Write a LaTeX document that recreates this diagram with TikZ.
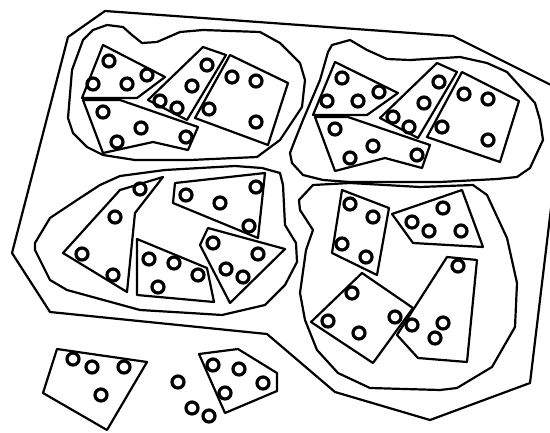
\documentclass[tikz,border=0pt]{standalone}
\usepackage{tikz}

\begin{document}
\begin{tikzpicture}[x=1pt,y=-1pt,line join=round,
    card/.style={draw,line width=2.2pt},
    blob/.style={draw,line width=2.2pt},
    hole/.style={draw,line width=3.2pt}]
  \useasboundingbox (0,0) rectangle (550,432);
  \clip (0,0) rectangle (550,432);
  % outer boundary
  \draw[blob] (105,11) -- (453,36) -- (565,92) -- (530,383) -- (430,420)
    -- (335,392) -- (267,334) -- (50,312) -- (12,253) -- (68,37) -- cycle;
  % groups
  \draw[blob] (83,40) -- (93,30) -- (107,25) -- (123,27) -- (132,35) -- (142,43)
    -- (157,42) -- (180,32) -- (203,30) -- (260,32) -- (280,43) -- (300,63)
    -- (305,80) -- (302,107) -- (280,140) -- (257,157) -- (190,160) -- (135,160)
    -- (103,155) -- (87,147) -- (73,133) -- (68,118) -- (72,70) -- cycle;
  \draw[blob] (332,45) -- (350,40) -- (367,50) -- (387,59) -- (410,60) -- (460,57)
    -- (487,63) -- (507,72) -- (535,103) -- (540,120) -- (543,140) -- (530,168)
    -- (517,177) -- (497,179) -- (440,182) -- (350,182) -- (323,180) -- (303,175)
    -- (292,163) -- (290,153) -- (295,140) -- (303,120) -- (320,80) -- (328,52) -- cycle;
  \draw[blob] (77,200) -- (100,185) -- (120,176) -- (165,170) -- (235,166)
    -- (262,168) -- (280,173) -- (283,185) -- (285,225) -- (296,243) -- (297,262)
    -- (285,285) -- (265,305) -- (222,315) -- (190,313) -- (140,310) -- (67,290)
    -- (50,280) -- (35,250) -- (35,243) -- (50,218) -- cycle;
  \draw[blob] (313,185) -- (350,183) -- (420,187) -- (473,185) -- (487,195)
    -- (507,238) -- (517,283) -- (515,327) -- (492,367) -- (457,388) -- (440,390)
    -- (370,388) -- (338,373) -- (317,350) -- (305,320) -- (300,293) -- (306,250)
    -- (313,230) -- (300,210) -- (299,200) -- cycle;
  % cards, top left group
  \draw[card] (103,45) -- (165,77) -- (137,98) -- (82,98) -- cycle;
  \draw[card] (83,100) -- (120,100) -- (198,127) -- (188,150) -- (153,142) -- (103,153) -- cycle;
  \draw[card] (203,47) -- (226,55) -- (187,120) -- (148,100) -- cycle;
  \draw[card] (230,55) -- (288,83) -- (268,145) -- (195,118) -- cycle;
  % cards, top right group
  \draw[card] (335,62) -- (398,93) -- (367,115) -- (313,115) -- cycle;
  \draw[card] (315,117) -- (348,117) -- (430,145) -- (422,168) -- (385,158) -- (335,171) -- cycle;
  \draw[card] (437,63) -- (457,72) -- (418,138) -- (380,118) -- cycle;
  \draw[card] (462,72) -- (519,101) -- (500,162) -- (427,137) -- cycle;
  % cards, lower left group
  \draw[card] (63,253) -- (120,190) -- (163,177) -- (135,213) -- (127,292) -- cycle;
  \draw[card] (175,183) -- (265,173) -- (258,238) -- (173,203) -- cycle;
  \draw[card] (137,239) -- (207,268) -- (214,302) -- (137,295) -- cycle;
  \draw[card] (208,228) -- (285,249) -- (230,303) -- (200,245) -- cycle;
  % cards, lower right group
  \draw[card] (342,190) -- (389,208) -- (377,275) -- (332,253) -- cycle;
  \draw[card] (392,214) -- (462,190) -- (483,247) -- (413,243) -- cycle;
  \draw[card] (362,273) -- (413,308) -- (373,363) -- (311,322) -- cycle;
  \draw[card] (447,257) -- (477,260) -- (467,362) -- (418,358) -- (397,335) -- cycle;
  % loose cards
  \draw[card] (57,349) -- (147,362) -- (107,430) -- (43,393) -- cycle;
  \draw[card] (199,354) -- (238,349) -- (277,373) -- (277,391) -- (225,413) -- cycle;
  % holes
  \foreach \p in {(109,61),(93,84),(127,84),(147,75),
      (103,112),(141,128),(117,142),(186,137),
      (207,65),(192,86),(160,101),(177,108),
      (232,77),(256,81),(209,109),(256,122),
      (342,78),(327,101),(358,101),(379,92),
      (335,129),(373,146),(350,158),(417,155),
      (439,82),(424,103),(393,117),(409,127),
      (464,94),(488,99),(442,127),(488,140),
      (82,254),(115,217),(140,189),(113,275),
      (186,195),(220,203),(256,187),(249,226),
      (149,259),(174,263),(198,275),(158,287),
      (213,243),(258,254),(226,269),(243,277),
      (350,204),(373,217),(342,244),(366,257),
      (412,222),(429,231),(443,208),(461,231),
      (352,293),(328,321),(359,333),(395,317),
      (458,266),(412,325),(443,323),(435,338),
      (73,359),(92,367),(124,367),(101,395),
      (213,365),(239,369),(263,383),(225,393),
      (178,382),(192,408),(209,416)}
    \draw[hole] \p circle (6);
\end{tikzpicture}
\end{document}
